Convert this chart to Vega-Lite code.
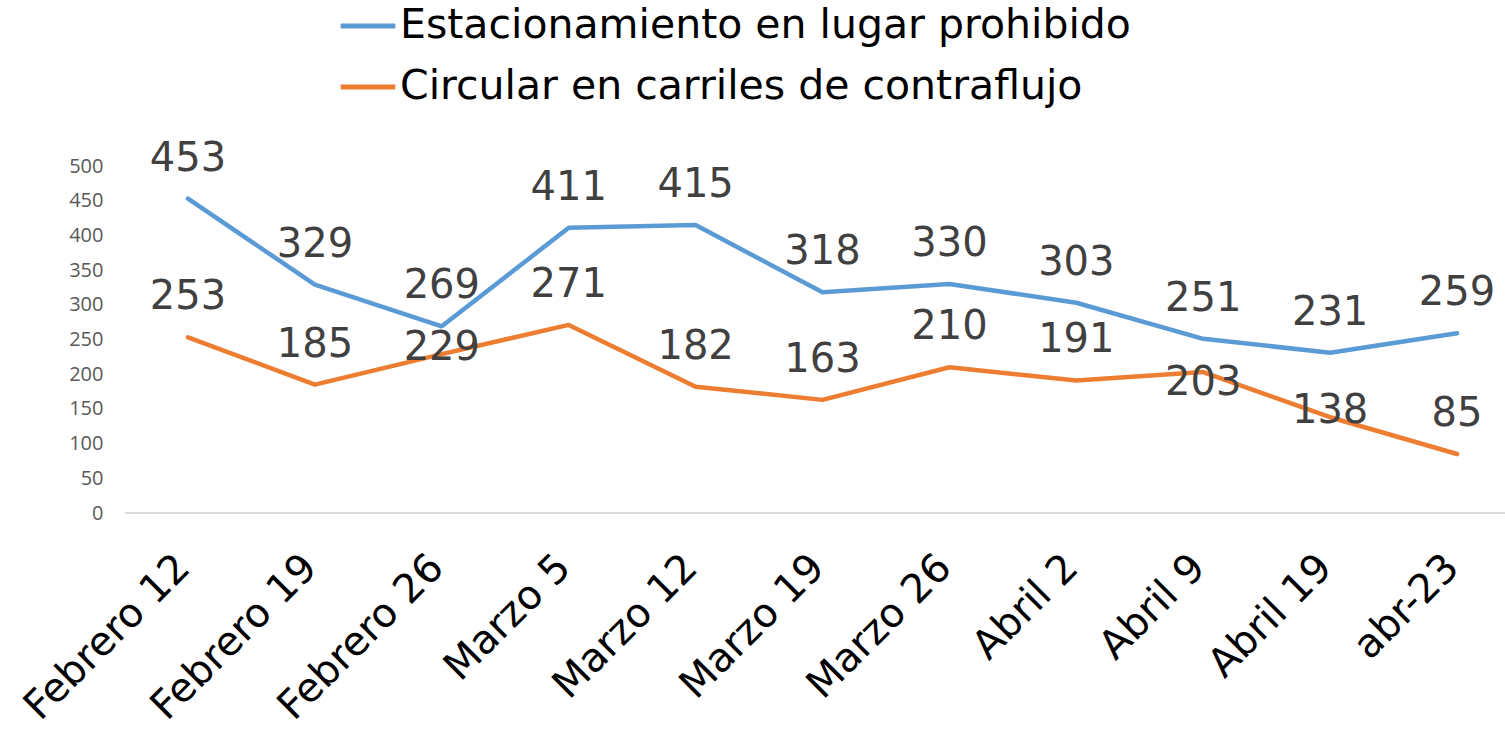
{
  "$schema": "https://vega.github.io/schema/vega-lite/v6.json",
  "autosize": "none",
  "width": 1380,
  "height": 347,
  "padding": {"left": 125, "top": 166, "right": 0, "bottom": 226},
  "background": "white",
  "config": {"view": {"stroke": null}, "font": "DejaVu Sans"},
  "data": {"values": [
    {"fecha": "Febrero 12", "serie": "Estacionamiento en lugar prohibido", "valor": 453},
    {"fecha": "Febrero 19", "serie": "Estacionamiento en lugar prohibido", "valor": 329},
    {"fecha": "Febrero 26", "serie": "Estacionamiento en lugar prohibido", "valor": 269},
    {"fecha": "Marzo 5", "serie": "Estacionamiento en lugar prohibido", "valor": 411},
    {"fecha": "Marzo 12", "serie": "Estacionamiento en lugar prohibido", "valor": 415},
    {"fecha": "Marzo 19", "serie": "Estacionamiento en lugar prohibido", "valor": 318},
    {"fecha": "Marzo 26", "serie": "Estacionamiento en lugar prohibido", "valor": 330},
    {"fecha": "Abril 2", "serie": "Estacionamiento en lugar prohibido", "valor": 303},
    {"fecha": "Abril 9", "serie": "Estacionamiento en lugar prohibido", "valor": 251},
    {"fecha": "Abril 19", "serie": "Estacionamiento en lugar prohibido", "valor": 231},
    {"fecha": "abr-23", "serie": "Estacionamiento en lugar prohibido", "valor": 259},
    {"fecha": "Febrero 12", "serie": "Circular en carriles de contraflujo", "valor": 253},
    {"fecha": "Febrero 19", "serie": "Circular en carriles de contraflujo", "valor": 185},
    {"fecha": "Febrero 26", "serie": "Circular en carriles de contraflujo", "valor": 229},
    {"fecha": "Marzo 5", "serie": "Circular en carriles de contraflujo", "valor": 271},
    {"fecha": "Marzo 12", "serie": "Circular en carriles de contraflujo", "valor": 182},
    {"fecha": "Marzo 19", "serie": "Circular en carriles de contraflujo", "valor": 163},
    {"fecha": "Marzo 26", "serie": "Circular en carriles de contraflujo", "valor": 210},
    {"fecha": "Abril 2", "serie": "Circular en carriles de contraflujo", "valor": 191},
    {"fecha": "Abril 9", "serie": "Circular en carriles de contraflujo", "valor": 203},
    {"fecha": "Abril 19", "serie": "Circular en carriles de contraflujo", "valor": 138},
    {"fecha": "abr-23", "serie": "Circular en carriles de contraflujo", "valor": 85}
  ]},
  "encoding": {
    "x": {
      "field": "fecha", "type": "ordinal", "sort": null,
      "scale": {"type": "point", "range": [63, 1332], "padding": 0},
      "axis": {"title": null, "domain": false, "ticks": false, "labelAngle": -45, "labelAlign": "right", "labelBaseline": "middle", "labelFontSize": 40, "labelColor": "#000000", "labelPadding": 48, "labelOffset": -5, "labelLimit": 1000}
    },
    "y": {
      "field": "valor", "type": "quantitative",
      "scale": {"domain": [0, 500]},
      "axis": {"title": null, "domain": false, "ticks": false, "grid": false, "values": [0, 50, 100, 150, 200, 250, 300, 350, 400, 450, 500], "labelFont": "Open Sans", "labelFontSize": 20, "labelColor": "#595959", "labelPadding": 22}
    }
  },
  "layer": [
    {
      "mark": {"type": "rule", "color": "#d9d9d9", "strokeWidth": 2},
      "encoding": {"y": {"datum": 0}, "x": null}
    },
    {
      "mark": {"type": "line", "strokeWidth": 4.5, "strokeCap": "round", "strokeJoin": "round"},
      "encoding": {
        "color": {
          "field": "serie", "type": "nominal",
          "scale": {"domain": ["Estacionamiento en lugar prohibido", "Circular en carriles de contraflujo"], "range": ["#5B9BD5", "#ED7D31"]},
          "legend": {"title": null, "orient": "none", "legendX": 213, "legendY": -170, "direction": "vertical", "symbolType": "stroke", "symbolSize": 3000, "symbolStrokeWidth": 5, "labelFontSize": 41, "labelColor": "#000000", "labelOffset": 2, "rowPadding": 11, "labelLimit": 1000, "padding": 0}
        }
      }
    },
    {
      "transform": [{"filter": "datum.valor != 229 && datum.valor != 138 && datum.valor != 203"}],
      "mark": {"type": "text", "fontSize": 40, "color": "#404040", "dy": -40, "baseline": "middle"},
      "encoding": {"text": {"field": "valor", "type": "quantitative"}}
    },
    {
      "transform": [{"filter": "datum.valor == 229 || datum.valor == 138"}],
      "mark": {"type": "text", "fontSize": 40, "color": "#404040", "dy": -6, "baseline": "middle"},
      "encoding": {"text": {"field": "valor", "type": "quantitative"}}
    },
    {
      "transform": [{"filter": "datum.valor == 203"}],
      "mark": {"type": "text", "fontSize": 40, "color": "#404040", "dy": 11, "baseline": "middle"},
      "encoding": {"text": {"field": "valor", "type": "quantitative"}}
    }
  ]
}
